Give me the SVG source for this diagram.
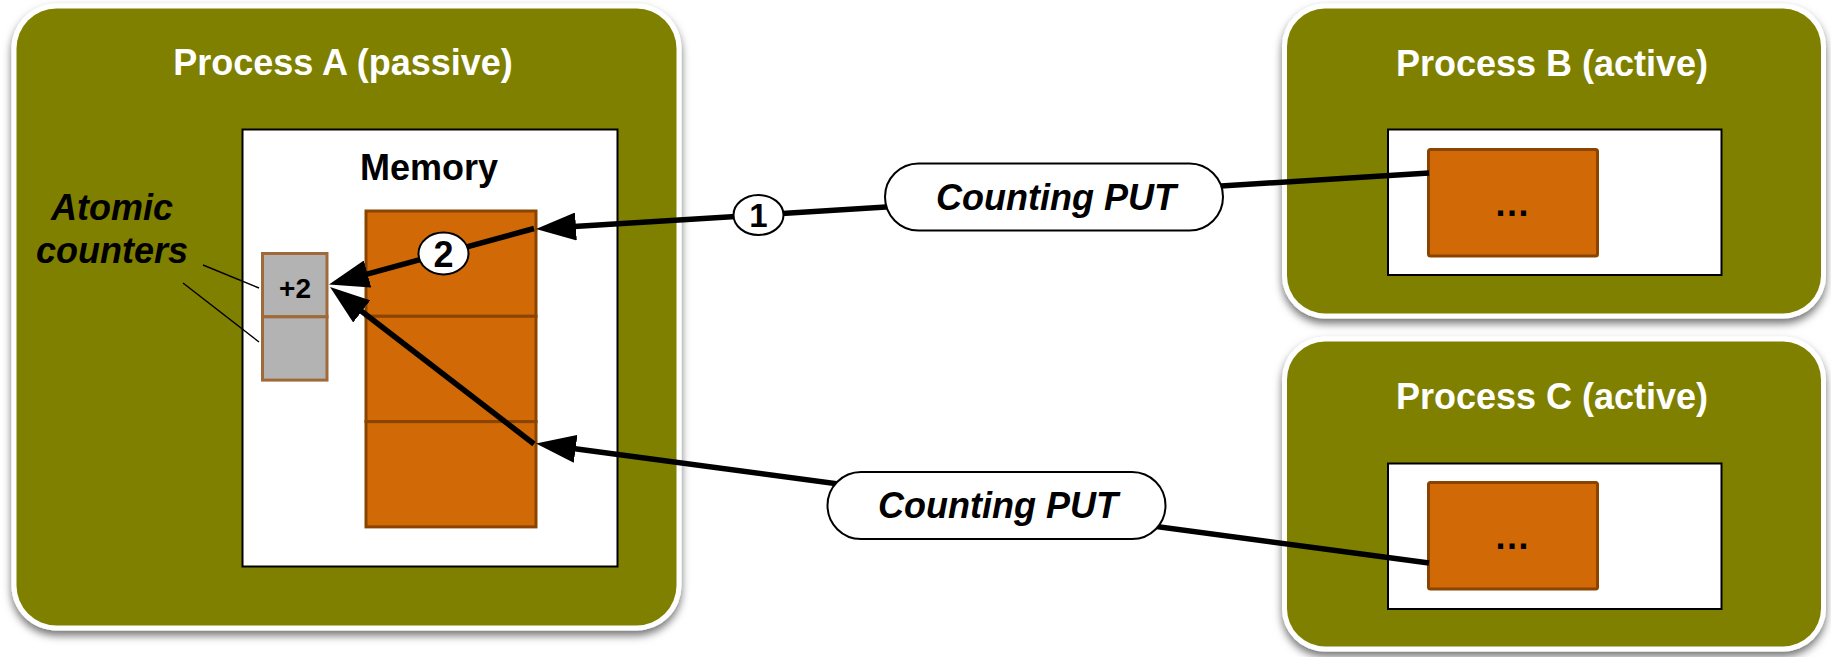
<svg xmlns="http://www.w3.org/2000/svg" width="1831" height="657" viewBox="0 0 1831 657">
<defs>
<style>
.frame{fill:#fff;filter:url(#shadow)}
.proc{fill:#808000}
.title{font:bold 36px "Liberation Sans",Arial,Helvetica,sans-serif;fill:#fff;text-anchor:middle}
.mem{fill:#fff;stroke:#000;stroke-width:2}
.cell{fill:#d06906;stroke:#8a4400;stroke-width:3}
.ctr{fill:#b3b3b3;stroke:#a0693a;stroke-width:3}
.lbl{font-family:"Liberation Sans",Arial,Helvetica,sans-serif;font-weight:bold;fill:#000;text-anchor:middle}
.it{font-style:italic}
.conn{stroke:#000;stroke-width:5.5;fill:none}
.lead{stroke:#000;stroke-width:1.5;fill:none}
.pill{fill:#fff;stroke:#000;stroke-width:2}
</style>
<filter id="shadow" x="-5%" y="-5%" width="110%" height="115%">
<feDropShadow dx="0" dy="5" stdDeviation="4" flood-color="#000" flood-opacity="0.55"/>
</filter>
<marker id="arrow" markerUnits="userSpaceOnUse" markerWidth="40" markerHeight="28" viewBox="0 0 40 28" refX="10" refY="14" orient="auto">
<path d="M0,0 L40,14 L0,28 z" fill="#000"/>
</marker>
</defs>

<g id="processA">
<rect class="frame" x="11.5" y="3.5" width="670" height="627" rx="45"/>
<rect class="proc" x="16.5" y="8.5" width="660" height="617" rx="40"/>
<text class="title" x="343" y="75">Process A (passive)</text>
</g>

<g id="memory">
<rect class="mem" x="242.5" y="129.5" width="375" height="437"/>
<text class="lbl" x="429" y="180" font-size="36">Memory</text>
<rect class="cell" x="366" y="211" width="170" height="105.3"/>
<rect class="cell" x="366" y="316.3" width="170" height="105.3"/>
<rect class="cell" x="366" y="421.6" width="170" height="105.3"/>
</g>

<g id="counters">
<rect class="ctr" x="262.5" y="253.5" width="64.5" height="63.3"/>
<rect class="ctr" x="262.5" y="316.8" width="64.5" height="63.3"/>
<text class="lbl" x="295" y="298" font-size="28">+2</text>
<text class="lbl it" x="112" y="220" font-size="36">Atomic</text>
<text class="lbl it" x="112" y="263" font-size="36">counters</text>
<line class="lead" x1="203" y1="265" x2="259" y2="288"/>
<line class="lead" x1="183" y1="283" x2="259" y2="342"/>
</g>

<g id="processB">
<rect class="frame" x="1282" y="3.5" width="544" height="315" rx="43"/>
<rect class="proc" x="1287" y="8.5" width="534" height="305" rx="38"/>
<text class="title" x="1552" y="76">Process B (active)</text>
<rect class="mem" x="1388" y="129.5" width="333.5" height="145.5"/>
<rect class="cell" x="1428.5" y="149.5" width="169" height="106.5" rx="2"/>
<text class="lbl" x="1512" y="216" font-size="36">…</text>
</g>

<g id="processC">
<rect class="frame" x="1282" y="336.5" width="544" height="315" rx="43"/>
<rect class="proc" x="1287" y="341.5" width="534" height="305" rx="38"/>
<text class="title" x="1552" y="408.5">Process C (active)</text>
<rect class="mem" x="1388" y="463.5" width="333.5" height="145.5"/>
<rect class="cell" x="1428.5" y="482.5" width="169" height="106.5" rx="2"/>
<text class="lbl" x="1512" y="549" font-size="36">…</text>
</g>

<g id="connectors">
<line class="conn" x1="1429" y1="173" x2="565.9" y2="227.1" marker-end="url(#arrow)"/>
<line class="conn" x1="534" y1="228.5" x2="357.9" y2="276.6" marker-end="url(#arrow)"/>
<line class="conn" x1="1429" y1="563" x2="565.7" y2="447.5" marker-end="url(#arrow)"/>
<line class="conn" x1="534" y1="444" x2="353.8" y2="305.3" marker-end="url(#arrow)"/>

<rect class="pill" x="885" y="163.5" width="338" height="67" rx="33.5"/>
<text class="lbl it" x="1056" y="210" font-size="36">Counting PUT</text>
<ellipse class="pill" cx="758.5" cy="215" rx="25" ry="20"/>
<text class="lbl" x="758.5" y="227" font-size="33">1</text>

<rect class="pill" x="827.5" y="472" width="338" height="67" rx="33.5"/>
<text class="lbl it" x="998" y="517.5" font-size="36">Counting PUT</text>

<ellipse class="pill" cx="443.5" cy="253.5" rx="25" ry="21"/>
<text class="lbl" x="443.5" y="266.5" font-size="36">2</text>
</g>
</svg>
